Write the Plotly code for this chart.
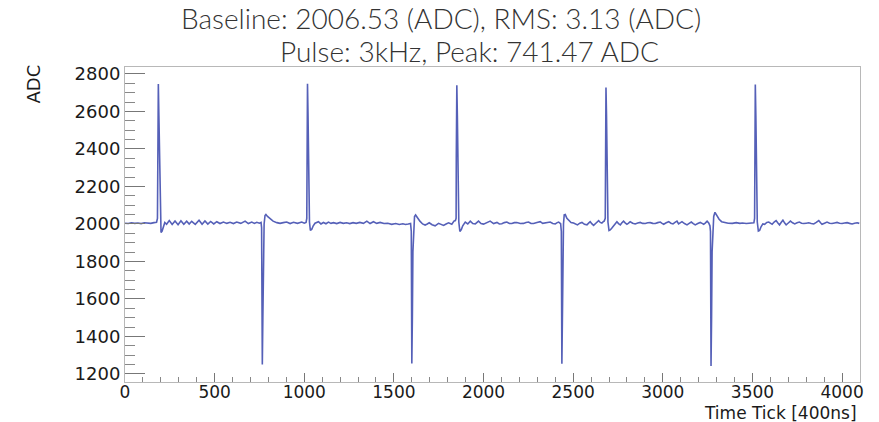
import plotly.graph_objects as go

# Header numbers
BASELINE = 2006.53
RMS = 3.13
PULSE_FREQ_KHZ = 3
PEAK = 741.47

# Waveform samples as (time tick, ADC) pairs, one list per stretch of the trace
lead_in = [
    (0, 2004), (18, 2002), (36, 2006), (54, 2003), (72, 2005), (90, 2002), (108, 2006),
    (126, 2004), (144, 2003), (162, 2007), (176, 2009), (181, 2030),
]
pulse_pos_1 = [
    (183, 2350), (186, 2746), (189, 2580), (191, 2450), (194, 2150), (197, 2010),
    (201, 1955), (207, 1962), (214, 1985), (222, 2008), (232, 1998),
    (247, 2018), (263, 1997), (279, 2016), (296, 1996), (312, 2017), (328, 1998),
    (344, 2015), (358, 1999), (372, 2014), (392, 1998), (413, 2020), (430, 1998),
    (446, 2016), (462, 1999), (478, 2013), (495, 2000), (512, 2012), (530, 2002),
    (549, 2010), (568, 2003), (586, 2009), (605, 2002), (623, 2010), (646, 2003),
    (670, 2015), (688, 2002), (707, 2010), (722, 2003), (735, 2009), (750, 2004),
    (759, 2008),
]
pulse_neg_1 = [
    (762, 1980), (766, 1250), (769, 1500), (772, 1850), (776, 2000), (781, 2045),
    (786, 2050), (795, 2040), (809, 2028), (826, 2015), (847, 2007),
    (865, 2003), (883, 2007), (902, 2010), (921, 2002), (940, 2009), (962, 2003),
    (986, 2010), (1000, 2004), (1010, 2008), (1014, 2030),
]
pulse_pos_2 = [
    (1015, 2350), (1018, 2748), (1021, 2580), (1023, 2450), (1026, 2150), (1029, 2010),
    (1034, 1965), (1042, 1972), (1050, 1990), (1060, 2004),
    (1079, 2012), (1093, 2000), (1107, 2008), (1121, 2001), (1135, 2010), (1149, 2003),
    (1163, 2007), (1181, 2002), (1200, 2008), (1218, 2003), (1236, 2006), (1254, 2002),
    (1272, 2007), (1290, 2003), (1310, 2008), (1330, 2003), (1349, 2015), (1367, 2002),
    (1386, 2012), (1404, 2003), (1423, 2008), (1445, 2002), (1466, 2004), (1488, 1998),
    (1510, 2002), (1530, 1997), (1550, 2001), (1565, 1997), (1580, 2000), (1593, 2003),
]
pulse_neg_2 = [
    (1597, 1960), (1600, 1256), (1603, 1500), (1606, 1850), (1610, 2000), (1615, 2040),
    (1621, 2048), (1630, 2035), (1645, 2015), (1660, 2000), (1674, 1994), (1686, 2000),
    (1697, 2006), (1713, 1996), (1730, 1990), (1749, 2003), (1763, 1996), (1777, 1992),
    (1791, 2000), (1805, 2006), (1823, 1998), (1835, 2015), (1843, 2018), (1847, 2030),
]
pulse_pos_3 = [
    (1848, 2350), (1851, 2740), (1854, 2580), (1856, 2450), (1859, 2150), (1862, 2010),
    (1868, 1960), (1876, 1970), (1884, 1990), (1898, 2010), (1912, 2000), (1926, 2015),
    (1940, 2002), (1954, 2000), (1972, 2015), (1986, 2002), (2000, 1999), (2018, 2008),
    (2037, 2015), (2056, 2002), (2075, 2008), (2088, 2000), (2102, 2001), (2116, 2007),
    (2130, 2010), (2144, 2002), (2158, 2002), (2172, 2007), (2186, 2008), (2205, 2002),
    (2223, 2003), (2237, 2008), (2251, 2010), (2265, 2002), (2279, 2002), (2298, 2008),
    (2316, 2012), (2330, 2003), (2344, 2004), (2358, 2009), (2372, 2010), (2386, 2002),
    (2400, 2000), (2411, 2007), (2419, 2010), (2430, 2002),
]
pulse_neg_3 = [
    (2434, 1960), (2437, 1254), (2440, 1500), (2443, 1850), (2446, 2000), (2450, 2048),
    (2456, 2050), (2465, 2030), (2474, 2020), (2488, 2008), (2502, 2005), (2514, 1998),
    (2524, 1995), (2537, 2004), (2549, 2008), (2563, 1998), (2577, 1995), (2586, 2004),
    (2595, 2012), (2605, 2000), (2614, 1992), (2628, 2005), (2642, 2018), (2651, 2008),
    (2660, 2005), (2668, 2012), (2673, 2015), (2679, 2030),
]
pulse_pos_4 = [
    (2680, 2350), (2683, 2728), (2686, 2580), (2688, 2450), (2691, 2150), (2694, 2010),
    (2700, 1965), (2707, 1968), (2716, 1978), (2725, 1990), (2734, 2004), (2744, 2012),
    (2753, 2002), (2763, 1995), (2772, 2006), (2781, 2015), (2790, 2006), (2800, 1998),
    (2809, 2004), (2818, 2012), (2832, 2004), (2846, 2000), (2860, 2005), (2874, 2008),
    (2888, 2003), (2902, 2002), (2916, 2006), (2930, 2007), (2944, 2003), (2958, 2002),
    (2972, 2007), (2986, 2010), (2996, 2003), (3005, 1998), (3019, 2006), (3033, 2012),
    (3045, 2004), (3057, 2000), (3068, 2008), (3079, 2015), (3088, 2000), (3097, 2004),
    (3107, 2012), (3121, 2002), (3135, 1995), (3147, 2003), (3159, 2010), (3170, 2002),
    (3181, 1995), (3195, 2002), (3209, 2008), (3219, 2003), (3228, 1998), (3238, 2006),
    (3247, 2015), (3256, 2005), (3263, 1990),
]
pulse_neg_4 = [
    (3266, 1960), (3269, 1242), (3272, 1500), (3275, 1850), (3279, 2000), (3284, 2040),
    (3291, 2062), (3300, 2048), (3314, 2025), (3328, 2012), (3342, 2008), (3365, 2004),
    (3388, 2003), (3410, 2007), (3430, 2003), (3444, 2005), (3466, 2002), (3488, 2004),
    (3500, 2003), (3508, 2006), (3512, 2030),
]
pulse_pos_5 = [
    (3513, 2350), (3516, 2744), (3519, 2580), (3521, 2450), (3524, 2150), (3527, 2010),
    (3533, 1962), (3540, 1965), (3548, 1985), (3558, 2000), (3568, 1998), (3580, 2008),
    (3591, 2010), (3600, 2003), (3610, 1998), (3621, 2010), (3632, 2018), (3642, 2005),
    (3651, 1995), (3660, 2008), (3670, 2020), (3679, 2006), (3688, 1995), (3700, 2005),
    (3712, 2015), (3724, 2006), (3736, 2000), (3749, 2006), (3762, 2010), (3774, 2004),
    (3786, 2002), (3800, 2004), (3814, 2006), (3828, 2002), (3842, 2000), (3856, 2008),
    (3870, 2018), (3880, 2006), (3888, 1998), (3902, 2004), (3916, 2010), (3930, 2004),
    (3944, 2002), (3958, 2005), (3972, 2008), (3986, 2004), (4000, 2002), (4014, 2005),
    (4028, 2007), (4042, 2003), (4056, 2000), (4070, 2004), (4084, 2006), (4096, 2003),
]

segments = [lead_in, pulse_pos_1, pulse_neg_1, pulse_pos_2, pulse_neg_2, pulse_pos_3,
            pulse_neg_3, pulse_pos_4, pulse_neg_4, pulse_pos_5]
ticks = [t for seg in segments for t, _ in seg]
adc = [a for seg in segments for _, a in seg]

fig = go.Figure()
fig.add_trace(go.Scatter(
    x=ticks, y=adc, mode="lines",
    line=dict(color="#5560b8", width=1.6),
    hoverinfo="x+y", showlegend=False,
))

# Plot frame geometry in pixels
L, R, T, B = 125, 19, 67, 40
W, H = 879, 422
pw, ph = W - L - R, H - T - B


def px_to_paper(x_px, y_px):
    return (x_px - L) / pw, (H - B - y_px) / ph


title_font = dict(family="Lato, 'Open Sans', sans-serif", size=28, color="#333333", weight=300)
x1, y1 = px_to_paper(441, 18)
x2, y2 = px_to_paper(469, 51)
fig.add_annotation(text=f"Baseline: {BASELINE:.2f} (ADC), RMS: {RMS:.2f} (ADC)",
                   xref="paper", yref="paper", x=x1, y=y1, xanchor="center", yanchor="middle",
                   showarrow=False, font=title_font)
fig.add_annotation(text=f"Pulse: {PULSE_FREQ_KHZ}kHz, Peak: {PEAK:.2f} ADC",
                   xref="paper", yref="paper", x=x2, y=y2, xanchor="center", yanchor="middle",
                   showarrow=False, font=title_font)

xa, ya = px_to_paper(33, 62)
fig.add_annotation(text="ADC", xref="paper", yref="paper", x=xa, y=ya,
                   xanchor="center", yanchor="top", textangle=-90, showarrow=False,
                   font=dict(family="DejaVu Sans, sans-serif", size=18, color="#1a1a1a"))
xt, yt = px_to_paper(859, 413)
fig.add_annotation(text="Time Tick [400ns]", xref="paper", yref="paper", x=xt, y=yt,
                   xanchor="right", yanchor="middle", showarrow=False,
                   font=dict(family="DejaVu Sans, sans-serif", size=17, color="#1a1a1a"))

fig.update_xaxes(
    range=[0, 4100], tick0=0, dtick=500, ticks="inside", ticklen=9, tickwidth=1,
    tickcolor="#777777", showline=True, linecolor="#b8b8b8", linewidth=1, mirror=True,
    showgrid=False, zeroline=False, ticklabelstandoff=-5,
    tickfont=dict(family="DejaVu Sans, sans-serif", size=17, color="#1a1a1a"),
    minor=dict(dtick=100, ticks="inside", ticklen=5, tickcolor="#888888", showgrid=False),
)
fig.update_yaxes(
    range=[1157, 2837], tick0=1200, dtick=200, ticks="inside", ticklen=20, tickwidth=1,
    tickcolor="#777777", showline=True, linecolor="#b8b8b8", linewidth=1, mirror=True,
    showgrid=False, zeroline=False,
    tickfont=dict(family="DejaVu Sans, sans-serif", size=18, color="#1a1a1a"),
    minor=dict(dtick=50, ticks="inside", ticklen=10, tickcolor="#888888", showgrid=False),
)
fig.update_layout(
    width=W, height=H, margin=dict(l=L, r=R, t=T, b=B),
    paper_bgcolor="white", plot_bgcolor="white",
)

fig.write_html("out.html")
